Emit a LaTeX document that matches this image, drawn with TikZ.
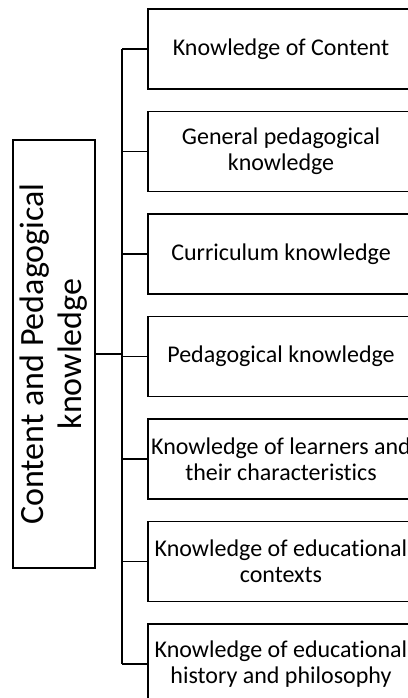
\documentclass[tikz,border=0pt]{standalone}
\usepackage{fontspec}
\setmainfont{Carlito}[Ligatures=NoCommon]
\usetikzlibrary{positioning}

\begin{document}
\begin{tikzpicture}[x=1pt, y=-1pt, node distance=21pt,
  kbox/.style={draw, line width=1.5pt, minimum width=266pt, minimum height=80pt,
    inner sep=0pt, align=center, font=\fontsize{24}{26}\selectfont},
  rootbox/.style={draw, line width=1.5pt, rotate=90, minimum width=428pt, minimum height=82pt,
    inner sep=0pt, align=center, font=\fontsize{34}{38}\selectfont},
  link/.style={line width=1.6pt}]
\useasboundingbox (0,0) rectangle (407,698);
\node (root) [rootbox] at (54,354) {Content and Pedagogical\\knowledge};
\node (k1) [kbox] at (281,49) {Knowledge of Content};
\node (k2) [kbox, below=of k1] {General pedagogical\\knowledge};
\node (k3) [kbox, below=of k2] {Curriculum knowledge};
\node (k4) [kbox, below=of k3] {Pedagogical knowledge};
\node (k5) [kbox, below=of k4] {Knowledge of learners and\\their characteristics};
\node (k6) [kbox, below=of k5] {Knowledge of educational\\contexts};
\node (k7) [kbox, below=of k6] {Knowledge of educational\\history and philosophy};
% trunk and branches
\coordinate (hub) at (122,354);
\draw[link] (root) -- (hub);
\draw[link] (hub |- k1.west) -- (hub |- k7.west);
\foreach \i in {1,...,7}
  \draw[link] (hub |- k\i.west) -- (k\i.west);
\end{tikzpicture}
\end{document}
